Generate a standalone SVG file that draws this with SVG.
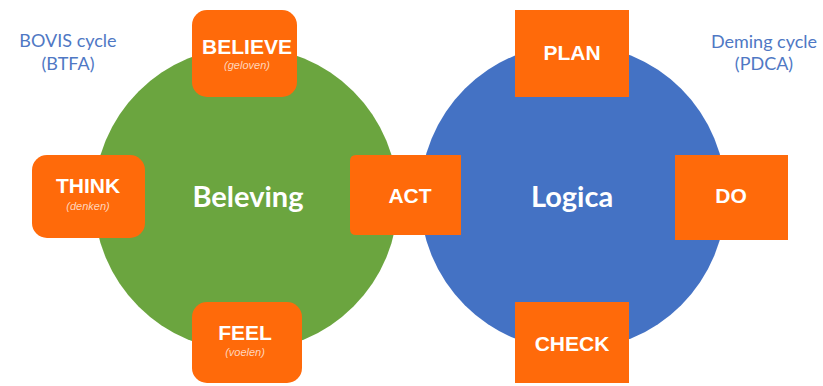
<svg xmlns="http://www.w3.org/2000/svg" width="823" height="386" viewBox="0 0 823 386">
<style>
.box{fill:#FF6A0A}
.lbl{font-family:"Liberation Sans",Arial,sans-serif;font-weight:bold;font-size:21px;fill:#FFFFFF;text-anchor:middle}
.sub{font-family:"Liberation Sans",Arial,sans-serif;font-style:italic;font-size:11px;fill:#FFD5BC;text-anchor:middle}
.big{font-family:Lato,"Open Sans",sans-serif;font-weight:bold;font-size:29px;fill:#FFFFFF;text-anchor:middle}
.cap{font-family:Lato,"Open Sans",sans-serif;font-size:18px;fill:#4F78C4;text-anchor:middle}
</style>
<rect width="823" height="386" fill="#FFFFFF"/>
<g id="bovis-title">
<text class="cap" x="68" y="47">BOVIS cycle</text>
<text class="cap" x="68" y="70">(BTFA)</text>
</g>
<g id="deming-title">
<text class="cap" x="764" y="48">Deming cycle</text>
<text class="cap" x="764" y="70">(PDCA)</text>
</g>
<g id="beleving">
<circle cx="246" cy="199" r="152" fill="#6BA53F"/>
<text class="big" x="248" y="207">Beleving</text>
</g>
<g id="logica">
<circle cx="573" cy="197" r="153" fill="#4472C4"/>
<text class="big" x="572" y="207">Logica</text>
</g>
<g id="connectors"></g>
<g id="believe">
<rect class="box" x="192" y="10" width="105" height="87" rx="15"/>
<text class="lbl" x="247" y="54">BELIEVE</text>
<text class="sub" x="247" y="69">(geloven)</text>
</g>
<g id="think">
<rect class="box" x="32" y="155" width="113" height="83" rx="15"/>
<text class="lbl" x="88" y="193">THINK</text>
<text class="sub" x="88" y="210">(denken)</text>
</g>
<g id="feel">
<rect class="box" x="192" y="302" width="110" height="81" rx="15"/>
<text class="lbl" x="245" y="340">FEEL</text>
<text class="sub" x="245" y="356">(voelen)</text>
</g>
<g id="act">
<path class="box" d="M356 155 H461 V235 H356 Q350 235 350 229 V161 Q350 155 356 155 Z"/>
<text class="lbl" x="410" y="203">ACT</text>
</g>
<g id="plan">
<rect class="box" x="515" y="10" width="114" height="87"/>
<text class="lbl" x="572" y="60">PLAN</text>
</g>
<g id="do">
<rect class="box" x="675" y="155" width="113" height="85"/>
<text class="lbl" x="731" y="203">DO</text>
</g>
<g id="check">
<rect class="box" x="515" y="302" width="114" height="81"/>
<text class="lbl" x="572" y="351">CHECK</text>
</g>
</svg>
